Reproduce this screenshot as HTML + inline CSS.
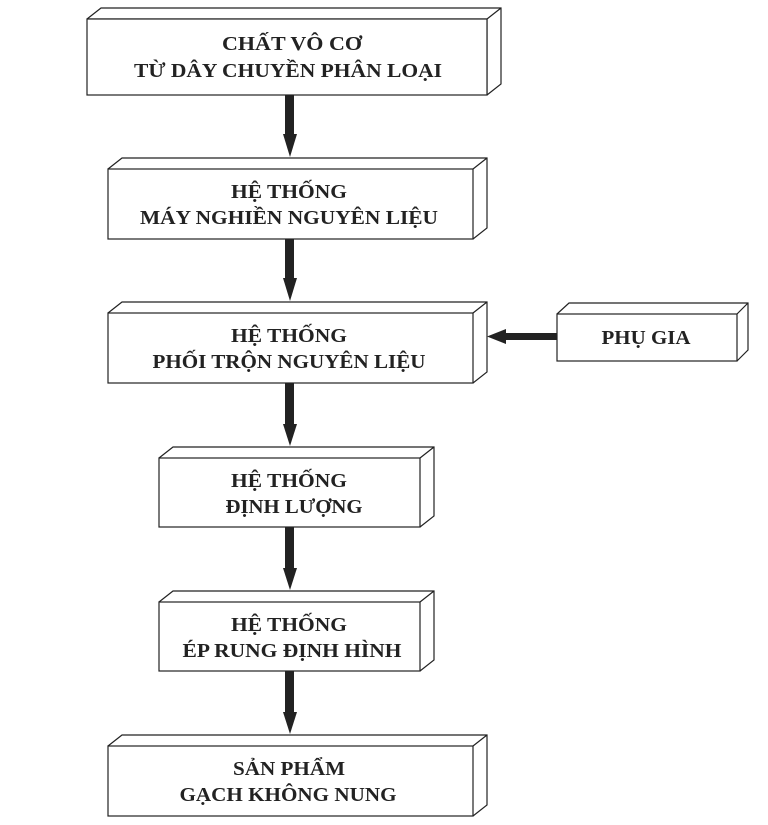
<!DOCTYPE html>
<html><head><meta charset="utf-8"><style>
html,body{margin:0;padding:0;background:#fff;}
svg{display:block}
text{font-family:"Liberation Serif","DejaVu Serif",serif;font-weight:bold;font-size:19.5px;fill:#222;text-anchor:middle}
</style></head><body>
<svg width="768" height="825" viewBox="0 0 768 825" xmlns="http://www.w3.org/2000/svg">
<g fill="#fff" stroke="#222" stroke-width="1.2">
<path d="M87 19 L101 8 L501 8 L501 84 L487 95 M87 19 L487 19 L501 8 M487 19 L487 95"/>
<rect x="87" y="19" width="400" height="76"/>
<path d="M108 169 L122 158 L487 158 L487 228 L473 239 M473 169 L487 158"/>
<rect x="108" y="169" width="365" height="70"/>
<path d="M108 313 L122 302 L487 302 L487 372 L473 383 M473 313 L487 302"/>
<rect x="108" y="313" width="365" height="70"/>
<path d="M159 458 L173 447 L434 447 L434 516 L420 527 M420 458 L434 447"/>
<rect x="159" y="458" width="261" height="69"/>
<path d="M159 602 L173 591 L434 591 L434 660 L420 671 M420 602 L434 591"/>
<rect x="159" y="602" width="261" height="69"/>
<path d="M108 746 L122 735 L487 735 L487 805 L473 816 M473 746 L487 735"/>
<rect x="108" y="746" width="365" height="70"/>
<path d="M557 314 L569 303 L748 303 L748 350 L737 361 M737 314 L748 303"/>
<rect x="557" y="314" width="180" height="47"/>
</g>
<g fill="#222">
<rect x="285" y="95" width="9" height="40"/><polygon points="283,134 297,134 290,157"/>
<rect x="285" y="239" width="9" height="40"/><polygon points="283,278 297,278 290,301"/>
<rect x="285" y="383" width="9" height="45"/><polygon points="283,424 297,424 290,446"/>
<rect x="285" y="527" width="9" height="45"/><polygon points="283,568 297,568 290,590"/>
<rect x="285" y="671" width="9" height="44"/><polygon points="283,712 297,712 290,734"/>
<rect x="503" y="333" width="54" height="7"/><polygon points="506,329 506,344 487,336.5"/>
</g>
<g>
<text x="292" y="50" textLength="140" lengthAdjust="spacingAndGlyphs">CHẤT VÔ CƠ</text>
<text x="288" y="77" textLength="308" lengthAdjust="spacingAndGlyphs">TỪ DÂY CHUYỀN PHÂN LOẠI</text>
<text x="289" y="198" textLength="116" lengthAdjust="spacingAndGlyphs">HỆ THỐNG</text>
<text x="289" y="224" textLength="298" lengthAdjust="spacingAndGlyphs">MÁY NGHIỀN NGUYÊN LIỆU</text>
<text x="289" y="342" textLength="116" lengthAdjust="spacingAndGlyphs">HỆ THỐNG</text>
<text x="289" y="368" textLength="273" lengthAdjust="spacingAndGlyphs">PHỐI TRỘN NGUYÊN LIỆU</text>
<text x="289" y="487" textLength="116" lengthAdjust="spacingAndGlyphs">HỆ THỐNG</text>
<text x="294" y="513" textLength="137" lengthAdjust="spacingAndGlyphs">ĐỊNH LƯỢNG</text>
<text x="289" y="631" textLength="116" lengthAdjust="spacingAndGlyphs">HỆ THỐNG</text>
<text x="292" y="657" textLength="219" lengthAdjust="spacingAndGlyphs">ÉP RUNG ĐỊNH HÌNH</text>
<text x="289" y="775" textLength="112" lengthAdjust="spacingAndGlyphs">SẢN PHẨM</text>
<text x="288" y="801" textLength="217" lengthAdjust="spacingAndGlyphs">GẠCH KHÔNG NUNG</text>
<text x="646" y="344" textLength="89" lengthAdjust="spacingAndGlyphs">PHỤ GIA</text>
</g>
</svg>
</body></html>
